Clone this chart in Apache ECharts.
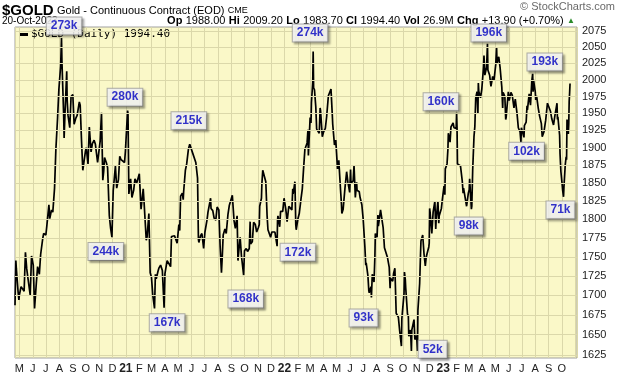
<!DOCTYPE html>
<html><head><meta charset="utf-8">
<script src="https://cdn.jsdelivr.net/npm/echarts@6/dist/echarts.min.js"></script>
<style>html,body{margin:0;padding:0;background:#fff}#c{width:620px;height:376px}</style>
</head><body><div id="c"></div>
<script>
// ---- data ----
const gold2020 = [['2020-04-21',1687],['2020-04-23',1745],['2020-04-24',1735],['2020-04-28',1705],['2020-04-30',1694],['2020-05-01',1700],['2020-05-05',1711],['2020-05-08',1713],['2020-05-12',1705],['2020-05-15',1756],['2020-05-18',1734],['2020-05-21',1721],['2020-05-26',1700],['2020-05-29',1751],['2020-06-02',1739],['2020-06-05',1683],['2020-06-09',1715],['2020-06-12',1737],['2020-06-16',1727],['2020-06-19',1753],['2020-06-24',1775],['2020-06-26',1781],['2020-07-01',1779],['2020-07-03',1790],['2020-07-08',1820],['2020-07-10',1801],['2020-07-14',1813],['2020-07-17',1810],['2020-07-21',1843],['2020-07-24',1897],['2020-07-28',1944],['2020-07-31',1986],['2020-08-04',2021],['2020-08-06',2064],['2020-08-07',2028],['2020-08-11',1946],['2020-08-12',1914],['2020-08-14',1949],['2020-08-18',2013],['2020-08-19',1970],['2020-08-21',1947],['2020-08-25',1929],['2020-08-28',1975],['2020-09-01',1978],['2020-09-04',1934],['2020-09-08',1943],['2020-09-11',1947],['2020-09-16',1967],['2020-09-18',1962],['2020-09-21',1911],['2020-09-24',1868],['2020-09-25',1866],['2020-09-30',1895],['2020-10-02',1900],['2020-10-06',1877],['2020-10-09',1930],['2020-10-13',1894],['2020-10-16',1906],['2020-10-20',1911],['2020-10-23',1905],['2020-10-28',1879],['2020-10-30',1879],['2020-11-03',1910],['2020-11-06',1951],['2020-11-09',1854],['2020-11-11',1866],['2020-11-13',1886],['2020-11-17',1879],['2020-11-20',1872],['2020-11-24',1805],['2020-11-27',1788],['2020-11-30',1776],['2020-12-03',1840],['2020-12-08',1874],['2020-12-11',1843],['2020-12-15',1855],['2020-12-18',1888],['2020-12-21',1883],['2020-12-24',1883],['2020-12-29',1879],['2020-12-31',1895]];
const gold2021 = [['2021-01-05',1954],['2021-01-06',1950],['2021-01-08',1835],['2021-01-12',1856],['2021-01-15',1830],['2021-01-19',1840],['2021-01-22',1856],['2021-01-26',1850],['2021-01-29',1850],['2021-02-01',1863],['2021-02-05',1814],['2021-02-10',1842],['2021-02-12',1823],['2021-02-17',1772],['2021-02-19',1777],['2021-02-23',1808],['2021-02-26',1729],['2021-03-01',1723],['2021-03-04',1700],['2021-03-08',1683],['2021-03-10',1727],['2021-03-12',1721],['2021-03-16',1731],['2021-03-18',1735],['2021-03-22',1739],['2021-03-26',1732],['2021-03-30',1684],['2021-04-01',1728],['2021-04-06',1745],['2021-04-09',1744],['2021-04-14',1737],['2021-04-16',1777],['2021-04-20',1778],['2021-04-23',1778],['2021-04-27',1778],['2021-04-29',1768],['2021-05-03',1793],['2021-05-05',1785],['2021-05-07',1832],['2021-05-11',1836],['2021-05-13',1827],['2021-05-14',1838],['2021-05-18',1868],['2021-05-21',1877],['2021-05-25',1898],['2021-05-28',1905],['2021-06-01',1905],['2021-06-04',1892],['2021-06-08',1894],['2021-06-11',1879],['2021-06-15',1857],['2021-06-17',1773],['2021-06-18',1769],['2021-06-22',1778],['2021-06-25',1781],['2021-06-29',1761],['2021-07-02',1783],['2021-07-07',1800],['2021-07-09',1810],['2021-07-13',1808],['2021-07-15',1829],['2021-07-16',1815],['2021-07-20',1812],['2021-07-23',1802],['2021-07-27',1799],['2021-07-30',1817],['2021-08-03',1813],['2021-08-05',1813],['2021-08-06',1763],['2021-08-09',1729],['2021-08-11',1752],['2021-08-13',1779],['2021-08-17',1787],['2021-08-20',1781],['2021-08-24',1807],['2021-08-27',1819],['2021-08-31',1818],['2021-09-03',1833],['2021-09-07',1798],['2021-09-10',1788],['2021-09-14',1805],['2021-09-16',1745],['2021-09-17',1752],['2021-09-21',1776],['2021-09-24',1751],['2021-09-29',1726],['2021-10-01',1758],['2021-10-05',1761],['2021-10-08',1757],['2021-10-12',1761],['2021-10-14',1797],['2021-10-15',1767],['2021-10-19',1770],['2021-10-22',1796],['2021-10-26',1793],['2021-10-29',1783],['2021-11-02',1789],['2021-11-04',1793],['2021-11-05',1818],['2021-11-09',1829],['2021-11-10',1849],['2021-11-12',1868],['2021-11-16',1870],['2021-11-19',1852],['2021-11-22',1805],['2021-11-24',1786],['2021-11-26',1788],['2021-11-30',1776],['2021-12-03',1783],['2021-12-07',1785],['2021-12-10',1783],['2021-12-15',1764],['2021-12-16',1799],['2021-12-17',1805],['2021-12-21',1790],['2021-12-23',1811],['2021-12-28',1811],['2021-12-31',1829]];
const gold2022 = [['2022-01-04',1814],['2022-01-07',1797],['2022-01-11',1818],['2022-01-14',1817],['2022-01-18',1813],['2022-01-20',1842],['2022-01-21',1835],['2022-01-25',1852],['2022-01-27',1793],['2022-01-28',1786],['2022-02-01',1801],['2022-02-04',1808],['2022-02-08',1828],['2022-02-11',1842],['2022-02-14',1871],['2022-02-17',1898],['2022-02-18',1899],['2022-02-22',1907],['2022-02-24',1926],['2022-02-25',1889],['2022-03-01',1944],['2022-03-03',1936],['2022-03-04',1966],['2022-03-07',1996],['2022-03-08',2043],['2022-03-09',1988],['2022-03-11',1985],['2022-03-14',1960],['2022-03-16',1927],['2022-03-18',1929],['2022-03-22',1921],['2022-03-24',1958],['2022-03-25',1954],['2022-03-29',1916],['2022-04-01',1923],['2022-04-05',1928],['2022-04-08',1945],['2022-04-12',1976],['2022-04-14',1974],['2022-04-18',1986],['2022-04-21',1948],['2022-04-22',1934],['2022-04-26',1904],['2022-04-29',1911],['2022-05-03',1870],['2022-05-05',1875],['2022-05-06',1882],['2022-05-10',1840],['2022-05-12',1822],['2022-05-13',1808],['2022-05-16',1814],['2022-05-18',1815],['2022-05-20',1842],['2022-05-24',1866],['2022-05-27',1851],['2022-05-31',1837],['2022-06-02',1869],['2022-06-03',1850],['2022-06-08',1853],['2022-06-10',1875],['2022-06-13',1830],['2022-06-16',1851],['2022-06-17',1840],['2022-06-22',1838],['2022-06-24',1830],['2022-06-28',1820],['2022-06-30',1807],['2022-07-01',1801],['2022-07-05',1763],['2022-07-07',1739],['2022-07-08',1742],['2022-07-12',1725],['2022-07-14',1706],['2022-07-15',1703],['2022-07-19',1711],['2022-07-20',1697],['2022-07-22',1727],['2022-07-26',1717],['2022-07-28',1750],['2022-07-29',1781],['2022-08-02',1776],['2022-08-04',1806],['2022-08-05',1791],['2022-08-10',1813],['2022-08-12',1815],['2022-08-16',1789],['2022-08-18',1771],['2022-08-19',1762],['2022-08-23',1761],['2022-08-26',1749],['2022-08-30',1736],['2022-09-01',1709],['2022-09-02',1722],['2022-09-07',1718],['2022-09-09',1728],['2022-09-12',1735],['2022-09-15',1677],['2022-09-20',1672],['2022-09-23',1655],['2022-09-27',1636],['2022-09-28',1670],['2022-09-30',1672],['2022-10-03',1702],['2022-10-04',1730],['2022-10-06',1720],['2022-10-07',1709],['2022-10-11',1676],['2022-10-13',1673],['2022-10-14',1648],['2022-10-18',1656],['2022-10-20',1630],['2022-10-21',1656],['2022-10-25',1658],['2022-10-26',1669],['2022-10-28',1644],['2022-11-01',1649],['2022-11-03',1630],['2022-11-04',1681],['2022-11-08',1715],['2022-11-10',1754],['2022-11-11',1771],['2022-11-15',1779],['2022-11-18',1754],['2022-11-21',1738],['2022-11-23',1749],['2022-11-25',1754],['2022-11-29',1763],['2022-11-30',1768],['2022-12-01',1815],['2022-12-02',1810],['2022-12-06',1781],['2022-12-09',1810],['2022-12-13',1825],['2022-12-15',1787],['2022-12-16',1800],['2022-12-20',1825],['2022-12-22',1795],['2022-12-23',1805],['2022-12-28',1815],['2022-12-30',1826]];
const gold2023 = [['2023-01-03',1846],['2023-01-05',1834],['2023-01-06',1870],['2023-01-10',1877],['2023-01-12',1898],['2023-01-13',1921],['2023-01-17',1908],['2023-01-19',1930],['2023-01-20',1928],['2023-01-24',1936],['2023-01-26',1929],['2023-01-27',1930],['2023-01-31',1928],['2023-02-01',1951],['2023-02-02',1929],['2023-02-03',1877],['2023-02-07',1875],['2023-02-10',1874],['2023-02-14',1853],['2023-02-16',1836],['2023-02-17',1843],['2023-02-21',1841],['2023-02-24',1818],['2023-02-28',1836],['2023-03-02',1841],['2023-03-03',1856],['2023-03-07',1814],['2023-03-08',1818],['2023-03-10',1868],['2023-03-13',1916],['2023-03-15',1931],['2023-03-17',1973],['2023-03-20',1982],['2023-03-22',1949],['2023-03-23',1995],['2023-03-24',1983],['2023-03-28',1973],['2023-03-31',1986],['2023-04-04',2020],['2023-04-05',2037],['2023-04-07',2007],['2023-04-11',2019],['2023-04-13',2055],['2023-04-14',2015],['2023-04-18',2007],['2023-04-21',1990],['2023-04-25',2005],['2023-04-28',1999],['2023-05-02',2023],['2023-05-04',2050],['2023-05-05',2025],['2023-05-09',2035],['2023-05-12',2019],['2023-05-16',1989],['2023-05-18',1958],['2023-05-19',1981],['2023-05-23',1975],['2023-05-25',1941],['2023-05-26',1944],['2023-05-31',1982],['2023-06-02',1969],['2023-06-06',1981],['2023-06-09',1977],['2023-06-13',1958],['2023-06-16',1971],['2023-06-20',1950],['2023-06-23',1929],['2023-06-27',1923],['2023-06-29',1908],['2023-06-30',1929],['2023-07-06',1915],['2023-07-07',1932],['2023-07-11',1937],['2023-07-13',1961],['2023-07-14',1955],['2023-07-18',1979],['2023-07-21',1962],['2023-07-24',1998],['2023-07-26',2009],['2023-07-27',1982],['2023-07-28',2000],['2023-08-01',1982],['2023-08-02',1970],['2023-08-04',1976],['2023-08-08',1957],['2023-08-11',1946],['2023-08-15',1935],['2023-08-17',1916],['2023-08-21',1923],['2023-08-25',1940],['2023-08-29',1965],['2023-09-01',1966],['2023-09-05',1953],['2023-09-08',1942],['2023-09-12',1933],['2023-09-14',1932],['2023-09-15',1946],['2023-09-20',1965],['2023-09-21',1941],['2023-09-22',1945],['2023-09-26',1918],['2023-09-27',1891],['2023-09-28',1878],['2023-09-29',1866],['2023-10-02',1847],['2023-10-03',1840],['2023-10-05',1831],['2023-10-06',1845],['2023-10-09',1876],['2023-10-11',1887],['2023-10-12',1883],['2023-10-13',1941],['2023-10-16',1920],['2023-10-17',1934],['2023-10-18',1968],['2023-10-19',1980],['2023-10-20',1994.4]];

// volume callouts: label, date, price level where the box sits
const volLabels = ['273k','280k','215k','274k','196k','193k','160k','102k','71k','98k','244k','172k','168k','167k','93k','52k'];
const volDates  = ['2020-08-12','2020-12-30','2021-05-26','2022-03-01','2023-04-16','2023-08-23','2022-12-27','2023-07-12','2023-09-28','2023-03-01','2020-11-16','2022-02-01','2021-10-04','2021-04-06','2022-07-02','2022-12-08'];
const volLevels = [2083,1974,1939,2072,2072,2027,1967,1895,1813,1791,1757,1756,1695,1665,1671,1632];

const yTicks = [1625,1650,1675,1700,1725,1750,1775,1800,1825,1850,1875,1900,1925,1950,1975,2000,2025,2050,2075];
const monthLetters = ['J','F','M','A','M','J','J','A','S','O','N','D'];
const lastLabelDate = '2023-10-01';

// ---- chart ----
const FONT = '"Liberation Sans", Arial, sans-serif';
const GRID = '#dbd8aa';
const chart = echarts.init(document.getElementById('c'), null, {renderer: 'canvas'});
const priceData = gold2020.concat(gold2021, gold2022, gold2023);
const volData = volLabels.map((l, i) => [volDates[i], volLevels[i], l]);
const lastLabelTime = new Date(lastLabelDate + 'T00:00:00').getTime();

chart.setOption({
  animation: false,
  backgroundColor: '#ffffff',
  textStyle: {fontFamily: FONT},
  grid: {left: 15, right: 43, top: 27, bottom: 18, show: true, backgroundColor: '#faf8c8', borderColor: '#a0a0a0', borderWidth: 1, containLabel: false, outerBoundsMode: 'none'},
  xAxis: {
    type: 'time', min: '2020-04-21', max: '2023-11-05', splitNumber: 50,
    axisLine: {show: false}, axisTick: {show: false},
    splitLine: {show: true, lineStyle: {color: GRID, width: 1}},
    axisLabel: {
      margin: 5, color: '#222', fontSize: 11, fontFamily: FONT, hideOverlap: false, showMinLabel: false, showMaxLabel: false,
      formatter: function (v) {
        const d = new Date(v);
        if (d.getDate() !== 1 || v > lastLabelTime) return '';
        const m = d.getMonth();
        if (m === 0) return '{y|' + String(d.getFullYear()).slice(2) + '}';
        return monthLetters[m];
      },
      rich: {y: {fontWeight: 'bold', fontSize: 12, color: '#222', fontFamily: FONT}}
    }
  },
  yAxis: {
    type: 'log', logBase: 10, min: 1621.3, max: 2081.3, position: 'right',
    axisLine: {show: false}, axisTick: {show: false}, axisLabel: {show: false}, splitLine: {show: false}
  },
  graphic: [
    {type: 'text', left: 2, top: 3, style: {text: '{a|$GOLD} {b|Gold - Continuous Contract (EOD)} {c|CME}', rich: {
      a: {fontSize: 15, fontWeight: 'bold', fill: '#000', fontFamily: FONT},
      b: {fontSize: 11, fill: '#000', fontFamily: FONT},
      c: {fontSize: 9, fill: '#000', fontFamily: FONT}}}},
    {type: 'text', right: 5, top: 1, style: {text: '\u00A9 StockCharts.com', fontSize: 11, fill: '#6a6a6a', fontFamily: FONT}},
    {type: 'text', left: 2, top: 16, style: {text: '20-Oct-2023', fontSize: 10, fill: '#000', fontFamily: FONT}},
    {type: 'text', right: 45, top: 15, style: {
      text: '{l|Op} {v|1988.00} {l|Hi} {v|2009.20} {l|Lo} {v|1983.70} {l|Cl} {v|1994.40} {l|Vol} {v|26.9M} {l|Chg} {v|+13.90 (+0.70%)} {g|\u25B2}',
      rich: {l: {fontSize: 11, fontWeight: 'bold', fill: '#000', fontFamily: FONT},
             v: {fontSize: 11, fill: '#000', fontFamily: FONT},
             g: {fontSize: 8, fill: '#2a8a2a', fontFamily: FONT}}}},
    {type: 'rect', left: 20, top: 33, z: 1, shape: {width: 8, height: 3}, style: {fill: '#000'}},
    {type: 'text', left: 31, top: 29, z: 1, style: {text: '$GOLD (Daily) 1994.40', fontSize: 11, fill: '#000', fontFamily: '"DejaVu Sans Mono", monospace'}}
  ],
  series: [
    {
      name: 'grid', type: 'line', data: [], z: 1, silent: true,
      markLine: {
        silent: true, symbol: 'none', animation: false,
        lineStyle: {color: GRID, width: 1, type: 'solid'},
        label: {position: 'end', distance: 5, formatter: '{c}', color: '#222', fontSize: 11, fontFamily: FONT},
        data: yTicks.map(v => ({yAxis: v}))
      }
    },
    {
      name: '$GOLD', type: 'line', data: priceData, showSymbol: false, z: 3,
      lineStyle: {color: '#000', width: 1.7}, silent: true
    },
    {
      name: 'vol', type: 'scatter', data: volData, z: 10, clip: false, silent: true,
      symbol: 'rect', symbolSize: 1, itemStyle: {color: 'rgba(0,0,0,0)'},
      label: {
        show: true, position: 'inside', formatter: p => p.value[2],
        color: '#0000c0', fontWeight: 'bold', fontSize: 12, fontFamily: FONT,
        backgroundColor: '#ffffff', borderColor: '#9a9a9a', borderWidth: 1, padding: [3, 4, 2, 4],
        shadowColor: 'rgba(0,0,0,0.35)', shadowOffsetX: 2, shadowOffsetY: 2, shadowBlur: 2
      }
    }
  ]
});
</script></body></html>
